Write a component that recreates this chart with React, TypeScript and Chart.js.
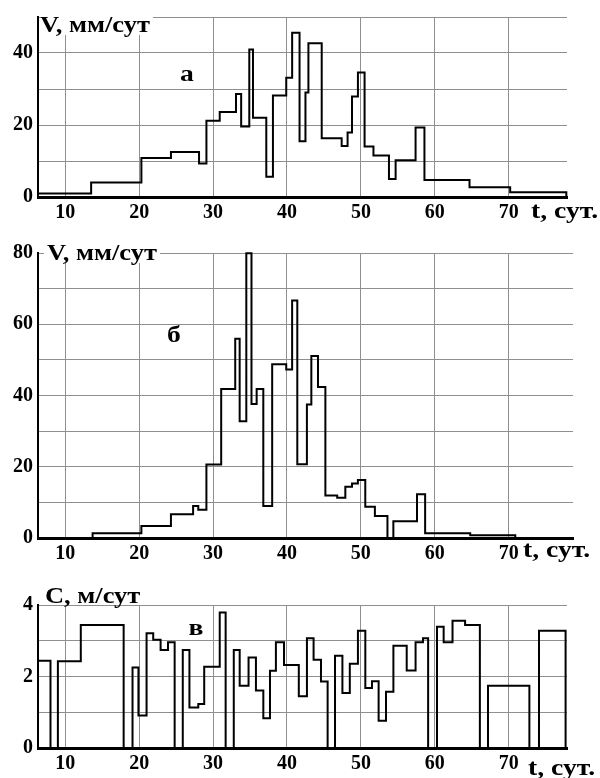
import React, { useEffect, useRef } from 'react';
import { Chart, registerables } from 'chart.js';

Chart.register(...registerables);

const FONT = '"Liberation Serif", "Times New Roman", serif';

// Panel а: V, мм/сут — step start times (сут) and values
const aTimes = [6.31, 13.5, 20.3, 24.3, 28.1, 29.1, 30.9, 33.1, 33.8, 34.9, 35.4, 37.2, 38.1, 39.9, 40.7, 41.7, 42.5, 42.9, 44.7, 47.4, 48.2, 48.8, 49.6, 50.5, 51.7, 53.8, 54.7, 57.4, 58.6, 64.7, 70.2, 77.8];
const aValues = [1.0, 4.0, 10.8, 12.5, 9.3, 21.2, 23.6, 28.6, 19.6, 41.0, 22.0, 5.6, 28.2, 33.1, 45.6, 15.5, 29.0, 42.7, 16.3, 14.2, 17.9, 27.9, 34.6, 14.0, 11.5, 5.0, 10.2, 19.3, 4.7, 2.7, 1.3, 0];

// Panel б: V, мм/сут
const bTimes = [13.7, 13.7, 20.3, 24.3, 27.3, 28.0, 29.1, 31.1, 33.0, 33.6, 34.5, 35.2, 35.9, 36.8, 38.0, 39.9, 40.7, 41.4, 42.7, 43.3, 44.2, 45.2, 46.8, 47.9, 48.8, 49.6, 50.6, 51.9, 53.6, 54.4, 57.6, 58.7, 64.8, 70.9];
const bValues = [0, 1.3, 3.4, 6.7, 9.0, 7.9, 20.6, 41.8, 55.9, 32.8, 79.9, 37.6, 41.8, 9.0, 48.8, 47.3, 66.7, 20.7, 37.5, 51.1, 42.4, 11.9, 11.3, 14.4, 15.3, 16.3, 8.8, 6.2, 0, 4.7, 12.3, 1.3, 0.8, 0];

// Panel в: C, м/сут
const cTimes = [6.31, 8.0, 9.0, 12.1, 17.9, 19.1, 19.9, 21.0, 21.9, 22.9, 23.9, 24.8, 25.9, 26.8, 28.0, 28.8, 30.9, 31.7, 32.8, 33.6, 34.8, 35.8, 36.8, 37.7, 38.5, 39.6, 41.6, 42.7, 43.6, 44.6, 45.5, 46.5, 47.5, 48.5, 49.6, 50.6, 51.5, 52.4, 53.4, 54.4, 56.2, 57.4, 58.4, 59.1, 60.3, 61.2, 62.4, 64.1, 66.1, 67.2, 72.8, 74.1, 77.7];
const cValues = [2.44, 0, 2.43, 3.44, 0, 2.25, 0.91, 3.21, 3.03, 2.74, 2.96, 0, 2.74, 1.13, 1.23, 2.27, 3.79, 0, 2.74, 1.74, 2.53, 1.61, 0.83, 2.16, 2.96, 2.32, 1.45, 3.07, 2.47, 1.86, 0, 2.58, 1.54, 2.36, 3.28, 1.68, 1.87, 0.76, 1.57, 2.86, 2.17, 2.96, 3.07, 0, 3.39, 2.96, 3.56, 3.44, 0, 1.74, 0, 3.28, 0];

const xTickLabels = [10, 20, 30, 40, 50, 60, 70];
const aYLabels = [0, 20, 40];
const bYLabels = [0, 20, 40, 60, 80];
const cYLabels = [0, 2, 4];

const panels = [
  {
    top: 0, height: 225, padTop: 16, padRight: 33, xAxisH: 28,
    xMin: 6.31, xMax: 77.89, yMax: 50, yStep: 10, yLabels: aYLabels,
    times: aTimes, values: aValues,
    title: 'V, мм/сут', titleX: 40, titleBase: 32, titleBg: true,
    letter: 'а', letterX: 187, letterBase: 81,
    unitX: 531, unitBase: 218,
  },
  {
    top: 225, height: 345, padTop: 28, padRight: 27, xAxisH: 32,
    xMin: 6.31, xMax: 78.71, yMax: 80, yStep: 10, yLabels: bYLabels,
    times: bTimes, values: bValues,
    title: 'V, мм/сут', titleX: 47, titleBase: 35, titleBg: true,
    letter: 'б', letterX: 174, letterBase: 117,
    unitX: 523, unitBase: 332,
  },
  {
    top: 570, height: 208, padTop: 35, padRight: 33, xAxisH: 30,
    xMin: 6.31, xMax: 77.89, yMax: 4, yStep: 1, yLabels: cYLabels,
    times: cTimes, values: cValues,
    title: 'C, м/сут', titleX: 45, titleBase: 33, titleBg: false,
    letter: 'в', letterX: 196, letterBase: 65,
    unitX: 528, unitBase: 205,
  },
];

const SX = 1.15;

function stretchedText(ctx: any, text: string, x: number, y: number, align: string) {
  const w = ctx.measureText(text).width * SX;
  const x0 = align === 'center' ? x - w / 2 : x;
  ctx.save();
  ctx.translate(x0, y);
  ctx.scale(SX, 1);
  ctx.textAlign = 'left';
  ctx.fillText(text, 0, 0);
  ctx.restore();
  return w;
}

const textPlugin = {
  id: 'panelText',
  afterDraw(chart: any, _args: any, opts: any) {
    const ctx = chart.ctx;
    ctx.save();
    ctx.textBaseline = 'alphabetic';
    ctx.font = `bold 23px ${FONT}`;
    const w = ctx.measureText(opts.title).width * SX;
    if (opts.titleBg) {
      ctx.fillStyle = '#fff';
      const x0 = Math.max(opts.titleX - 3, chart.chartArea.left + 2);
      ctx.fillRect(x0, opts.titleBase - 21, opts.titleX + w + 3 - x0, 24);
    }
    ctx.fillStyle = '#000';
    stretchedText(ctx, opts.title, opts.titleX, opts.titleBase, 'left');
    ctx.font = `bold 24px ${FONT}`;
    stretchedText(ctx, opts.letter, opts.letterX, opts.letterBase, 'center');
    ctx.font = `bold 24px ${FONT}`;
    stretchedText(ctx, 't, сут.', opts.unitX, opts.unitBase, 'left');
    ctx.restore();
  },
};

function Panel({ p }: { p: any }) {
  const ref = useRef<HTMLCanvasElement | null>(null);
  useEffect(() => {
    if (!ref.current) return;
    const chart = new Chart(ref.current, {
      type: 'line',
      data: {
        datasets: [
          {
            data: p.times.map((t: number, i: number) => ({ x: t, y: p.values[i] })),
            borderColor: '#000',
            borderWidth: 2,
            pointRadius: 0,
            stepped: true,
            fill: false,
            clip: 6,
          } as any,
        ],
      },
      options: {
        animation: false,
        responsive: false,
        devicePixelRatio: 1,
        layout: { padding: { top: p.padTop, right: p.padRight, left: 0, bottom: 0 } },
        plugins: {
          legend: { display: false },
          tooltip: { enabled: false },
          panelText: p,
        } as any,
        scales: {
          x: {
            type: 'linear',
            min: p.xMin,
            max: p.xMax,
            afterFit: (s: any) => { s.height = p.xAxisH; },
            ticks: {
              stepSize: 10,
              includeBounds: false,
              padding: 4,
              color: '#000',
              font: { family: FONT, size: 20, weight: 'bold' },
              callback: (v: any) => (xTickLabels.includes(Number(v)) ? String(v) : ''),
              maxRotation: 0,
              autoSkip: false,
            },
            grid: { color: '#8f8f8f', lineWidth: 1, drawTicks: false },
            border: { display: true, color: '#000', width: 3 },
          },
          y: {
            type: 'linear',
            min: 0,
            max: p.yMax,
            afterFit: (s: any) => { s.width = 38; },
            ticks: {
              stepSize: p.yStep,
              padding: 5,
              color: '#000',
              font: { family: FONT, size: 20, weight: 'bold' },
              callback: (v: any) => (p.yLabels.includes(Number(v)) ? String(v) : ''),
              autoSkip: false,
            },
            grid: { color: '#8f8f8f', lineWidth: 1, drawTicks: false },
            border: { display: true, color: '#000', width: 2 },
          },
        },
      } as any,
      plugins: [textPlugin],
    });
    return () => chart.destroy();
  }, []);
  return (
    <canvas
      ref={ref}
      width={600}
      height={p.height}
      style={{ position: 'absolute', left: 0, top: p.top, width: 600, height: p.height, display: 'block' }}
    />
  );
}

export default function App() {
  return (
    <div style={{ position: 'fixed', left: 0, top: 0, width: 600, height: 778, background: '#fff', overflow: 'hidden' }}>
      {panels.map((p, i) => (
        <Panel key={i} p={p} />
      ))}
    </div>
  );
}
